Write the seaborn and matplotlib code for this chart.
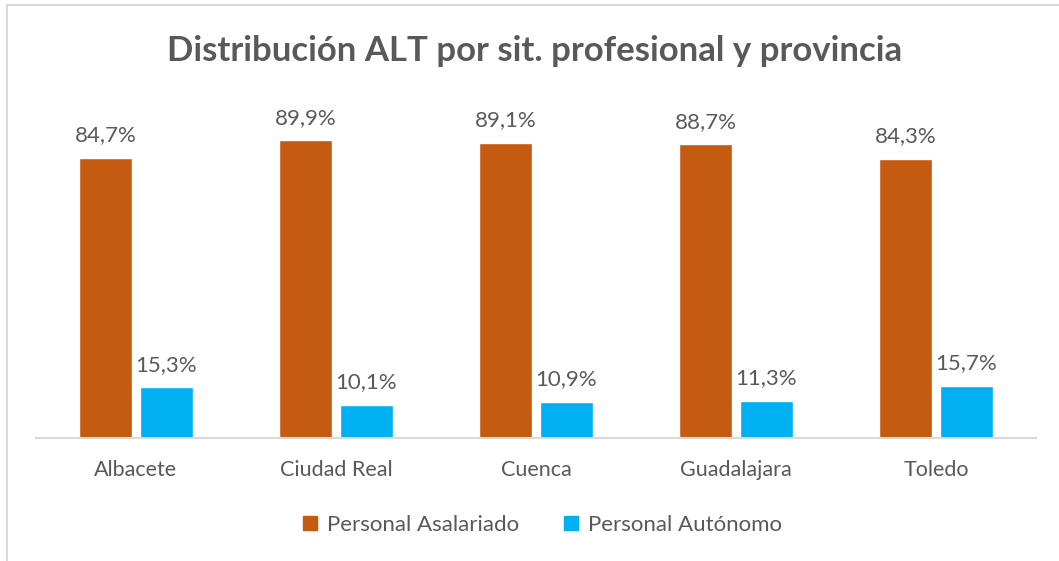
import pandas as pd
import matplotlib.pyplot as plt
import seaborn as sns
from matplotlib.lines import Line2D

# Data
provincias = ['Albacete', 'Ciudad Real', 'Cuenca', 'Guadalajara', 'Toledo']
asalariado = [84.7, 89.9, 89.1, 88.7, 84.3]
autonomo = [15.3, 10.1, 10.9, 11.3, 15.7]
series = ['Personal Asalariado', 'Personal Autónomo']
colores = ['#C55A11', '#00B0F0']

df = pd.DataFrame({
    'provincia': provincias * 2,
    'valor': asalariado + autonomo,
    'serie': [series[0]] * len(provincias) + [series[1]] * len(provincias),
})

sns.set_style('white')
plt.rcParams['font.family'] = ['Lato', 'DejaVu Sans']
gris = '#595959'

fig = plt.figure(figsize=(10.59, 5.61), dpi=100)
ax = fig.add_axes([36 / 1059, (561 - 438) / 561, 1000 / 1059, 331 / 561])

sns.barplot(data=df, x='provincia', y='valor', hue='serie', palette=colores,
            width=0.61, gap=0.12, ax=ax, legend=False, saturation=1)

for cont in ax.containers:
    labels = [f'{v:.1f}%'.replace('.', ',') for v in cont.datavalues]
    ax.bar_label(cont, labels=labels, padding=9, fontsize=16, color=gris)

ax.set_ylim(0, 100)
ax.set_xlim(-0.5, 4.5)
ax.set_xlabel('')
ax.set_ylabel('')
ax.set_yticks([])
for s in ['top', 'right', 'left']:
    ax.spines[s].set_visible(False)
ax.spines['bottom'].set_color('#D9D9D9')
ax.spines['bottom'].set_linewidth(1.5)
ax.tick_params(axis='x', length=0, pad=16, labelsize=15.5, labelcolor=gris)

fig.suptitle('Distribución ALT por sit. profesional y provincia', x=0.505,
             y=1 - 51 / 561, va='center', fontsize=25, fontweight='bold', color=gris)

handles = [Line2D([], [], marker='s', linestyle='', markersize=9.5,
                  markerfacecolor=c, markeredgecolor=c) for c in colores]
fig.legend(handles, series, loc='center', bbox_to_anchor=(0.512, 1 - 525 / 561),
           ncol=2, frameon=False, fontsize=16, labelcolor=gris,
           handlelength=0.7, handletextpad=0.4, columnspacing=2.0)

# chart frame (only left and top edges visible in the crop)
fig.add_artist(Line2D([7 / 1059, 7 / 1059], [0, 1 - 5 / 561], color='#D9D9D9', lw=1.5,
                      transform=fig.transFigure))
fig.add_artist(Line2D([7 / 1059, 1], [1 - 5 / 561, 1 - 5 / 561], color='#D9D9D9', lw=1.5,
                      transform=fig.transFigure))

fig.savefig('out.png', dpi=100, facecolor='white')
